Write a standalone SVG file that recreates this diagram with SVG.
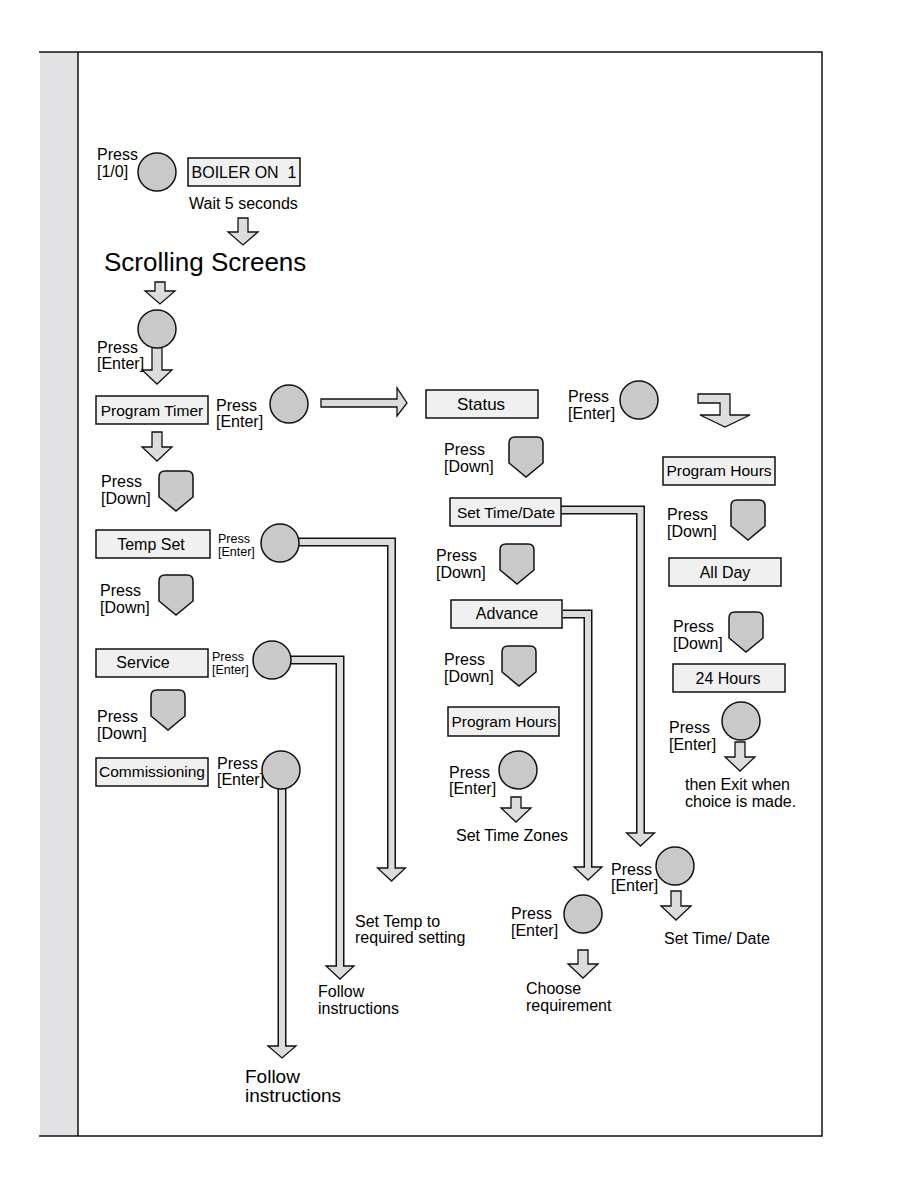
<svg xmlns="http://www.w3.org/2000/svg" xmlns:xlink="http://www.w3.org/1999/xlink" width="918" height="1188" viewBox="0 0 918 1188">
<style>
text{font-family:"Liberation Sans",Arial,sans-serif;fill:#000;}
.t{font-size:16px;}
.s{font-size:12.5px;}
.b{font-size:16px;text-anchor:middle;}
.bn{font-size:15.5px;text-anchor:middle;}
.box{fill:#f0f0f0;stroke:#111;stroke-width:1.5;}
.btn{fill:#c9c9c9;stroke:#111;stroke-width:1.5;}
.arr{fill:#dcdcdc;stroke:#111;stroke-width:1.3;stroke-linejoin:miter;}
.pipeo{fill:none;stroke:#111;stroke-width:9;stroke-linejoin:miter;}
.pipei{fill:none;stroke:#dcdcdc;stroke-width:6;stroke-linejoin:miter;}
</style>
<defs>
<path id="down" d="M6,0 H28 Q34,0 34,6 V26 L17,40 L0,26 V6 Q0,0 6,0 Z"/>
</defs>
<g id="frame">
<rect x="40" y="52" width="38" height="1084" fill="#e2e2e4"/>
<path d="M39,52 H822 V1136 H39 M78,52 V1136" fill="none" stroke="#111" stroke-width="1.5"/>
</g>
<g id="connectors">
<path class="arr" d="M238,218 H248 V232 H258 L243,245 L228,232 H238 Z"/>
<path class="arr" d="M155,282 H165 V291 H175 L160,304 L145,291 H155 Z"/>
<path class="arr" d="M152,347 H162 V370 H172 L157,384 L142,370 H152 Z"/>
<path class="arr" d="M152,432 H162 V447 H172 L157,461 L142,447 H152 Z"/>
<path class="arr" d="M511,797 H521 V808 H531 L516,822 L501,808 H511 Z"/>
<path class="arr" d="M578,950 H588 V964 H598 L583,978 L568,964 H578 Z"/>
<path class="arr" d="M671,891 H681 V906 H691 L676,920 L661,906 H671 Z"/>
<path class="arr" d="M735,742 H745 V757 H755 L740,771 L725,757 H735 Z"/>
<path class="arr" d="M321,399 H397 V388 L407,403 L397,416 V407 H321 Z"/>
<path class="arr" d="M698,394 H730 V415 H750 L725,427 L700,415 H720 V403 H698 Z"/>
<path class="pipeo" d="M298,542 H391.5 V868"/>
<path class="arr" d="M377.5,868 H405.5 L391.5,881 Z"/>
<path class="pipei" d="M298,542 H391.5 V869"/>
<path class="pipeo" d="M290,660 H340 V966"/>
<path class="arr" d="M326,966 H354 L340,979 Z"/>
<path class="pipei" d="M290,660 H340 V967"/>
<path class="pipeo" d="M282,788 V1046"/>
<path class="arr" d="M268,1046 H296 L282,1058 Z"/>
<path class="pipei" d="M282,789 V1047"/>
<path class="pipeo" d="M561,510 H640.5 V833"/>
<path class="arr" d="M626.5,833 H654.5 L640.5,846 Z"/>
<path class="pipei" d="M561,510 H640.5 V834"/>
<path class="pipeo" d="M563,614 H588 V867"/>
<path class="arr" d="M574,867 H602 L588,880 Z"/>
<path class="pipei" d="M563,614 H588 V868"/>
</g>
<g id="start">
<text class="t" x="97" y="160">Press</text>
<text class="t" x="97" y="177">[1/0]</text>
<circle class="btn" cx="157" cy="172" r="19"/>
</g>
<g id="boiler-on">
<rect class="box" x="188" y="158" width="112" height="28"/>
<text x="244" y="178" style="font-size:16px;text-anchor:middle;white-space:pre" xml:space="preserve">BOILER ON  1</text>
<text class="t" x="189" y="209">Wait 5 seconds</text>
</g>
<g id="scrolling">
<text x="104" y="271" style="font-size:26px">Scrolling Screens</text>
</g>
<g id="enter1">
<circle class="btn" cx="157" cy="329" r="19"/>
<text class="t" x="97" y="353">Press</text>
<text class="t" x="97" y="369">[Enter]</text>
</g>
<g id="program-timer">
<rect class="box" x="96" y="396" width="112" height="28"/>
<text class="bn" x="152" y="416">Program Timer</text>
<text class="t" x="216" y="411">Press</text>
<text class="t" x="216" y="427">[Enter]</text>
<circle class="btn" cx="289" cy="404" r="19"/>
</g>
<g id="down1">
<text class="t" x="101" y="487">Press</text>
<text class="t" x="101" y="504">[Down]</text>
<use href="#down" xlink:href="#down" class="btn" x="159" y="471"/>
</g>
<g id="temp-set">
<rect class="box" x="96" y="530" width="114" height="28"/>
<text class="b" x="151" y="550">Temp Set</text>
<text class="s" x="218" y="543">Press</text>
<text class="s" x="218" y="556">[Enter]</text>
<circle class="btn" cx="280" cy="543" r="19"/>
</g>
<g id="down2">
<text class="t" x="100" y="596">Press</text>
<text class="t" x="100" y="613">[Down]</text>
<use href="#down" xlink:href="#down" class="btn" x="159" y="575"/>
</g>
<g id="service">
<rect class="box" x="96" y="649" width="112" height="28"/>
<text class="b" x="143" y="668">Service</text>
<text class="s" x="212" y="661">Press</text>
<text class="s" x="212" y="674">[Enter]</text>
<circle class="btn" cx="272" cy="660" r="19"/>
</g>
<g id="down3">
<text class="t" x="97" y="722">Press</text>
<text class="t" x="97" y="739">[Down]</text>
<use href="#down" xlink:href="#down" class="btn" x="151" y="690"/>
</g>
<g id="commissioning">
<rect class="box" x="96" y="758" width="112" height="28"/>
<text class="bn" x="152" y="777">Commissioning</text>
<text class="t" x="217" y="769">Press</text>
<text class="t" x="217" y="785">[Enter]</text>
<circle class="btn" cx="281" cy="770" r="19"/>
</g>
<g id="set-temp-label">
<text class="t" x="355" y="927">Set Temp to</text>
<text class="t" x="355" y="943">required setting</text>
</g>
<g id="follow1">
<text class="t" x="318" y="997">Follow</text>
<text class="t" x="318" y="1014">instructions</text>
</g>
<g id="follow2">
<text x="245" y="1083" style="font-size:19px">Follow</text>
<text x="245" y="1102" style="font-size:19px">instructions</text>
</g>
<g id="status">
<rect class="box" x="426" y="390" width="112" height="28"/>
<text x="481" y="410" style="font-size:17px;text-anchor:middle">Status</text>
<text class="t" x="568" y="402">Press</text>
<text class="t" x="568" y="419">[Enter]</text>
<circle class="btn" cx="639" cy="400" r="19"/>
</g>
<g id="mdown1">
<text class="t" x="444" y="455">Press</text>
<text class="t" x="444" y="472">[Down]</text>
<use href="#down" xlink:href="#down" class="btn" x="509" y="437"/>
</g>
<g id="set-time-date">
<rect class="box" x="450" y="498" width="111" height="28"/>
<text class="bn" x="506" y="518">Set Time/Date</text>
</g>
<g id="mdown2">
<text class="t" x="436" y="561">Press</text>
<text class="t" x="436" y="578">[Down]</text>
<use href="#down" xlink:href="#down" class="btn" x="500" y="544"/>
</g>
<g id="advance">
<rect class="box" x="451" y="600" width="111" height="28"/>
<text class="b" x="507" y="619">Advance</text>
</g>
<g id="mdown3">
<text class="t" x="444" y="665">Press</text>
<text class="t" x="444" y="682">[Down]</text>
<use href="#down" xlink:href="#down" class="btn" x="502" y="646"/>
</g>
<g id="program-hours-mid">
<rect class="box" x="448" y="707" width="111" height="29"/>
<text class="bn" x="504" y="727">Program Hours</text>
<text class="t" x="449" y="778">Press</text>
<text class="t" x="449" y="794">[Enter]</text>
<circle class="btn" cx="518" cy="770" r="19"/>
<text class="t" x="456" y="841">Set Time Zones</text>
</g>
<g id="advance-enter">
<text class="t" x="511" y="919">Press</text>
<text class="t" x="511" y="936">[Enter]</text>
<circle class="btn" cx="583" cy="914" r="19"/>
<text class="t" x="526" y="994">Choose</text>
<text class="t" x="526" y="1011">requirement</text>
</g>
<g id="time-enter">
<text class="t" x="611" y="875">Press</text>
<text class="t" x="611" y="891">[Enter]</text>
<circle class="btn" cx="675" cy="866" r="19"/>
<text class="t" x="664" y="944">Set Time/ Date</text>
</g>
<g id="program-hours-right">
<rect class="box" x="663" y="457" width="112" height="28"/>
<text class="bn" x="719" y="476">Program Hours</text>
</g>
<g id="rdown1">
<text class="t" x="667" y="520">Press</text>
<text class="t" x="667" y="537">[Down]</text>
<use href="#down" xlink:href="#down" class="btn" x="731" y="500"/>
</g>
<g id="all-day">
<rect class="box" x="669" y="558" width="112" height="28"/>
<text class="b" x="725" y="578">All Day</text>
</g>
<g id="rdown2">
<text class="t" x="673" y="632">Press</text>
<text class="t" x="673" y="649">[Down]</text>
<use href="#down" xlink:href="#down" class="btn" x="729" y="612"/>
</g>
<g id="hours24">
<rect class="box" x="673" y="664" width="112" height="28"/>
<text class="b" x="728" y="684">24 Hours</text>
<text class="t" x="669" y="733">Press</text>
<text class="t" x="669" y="750">[Enter]</text>
<circle class="btn" cx="741" cy="721" r="19"/>
<text class="t" x="685" y="790">then Exit when</text>
<text class="t" x="685" y="807">choice is made.</text>
</g>
</svg>
